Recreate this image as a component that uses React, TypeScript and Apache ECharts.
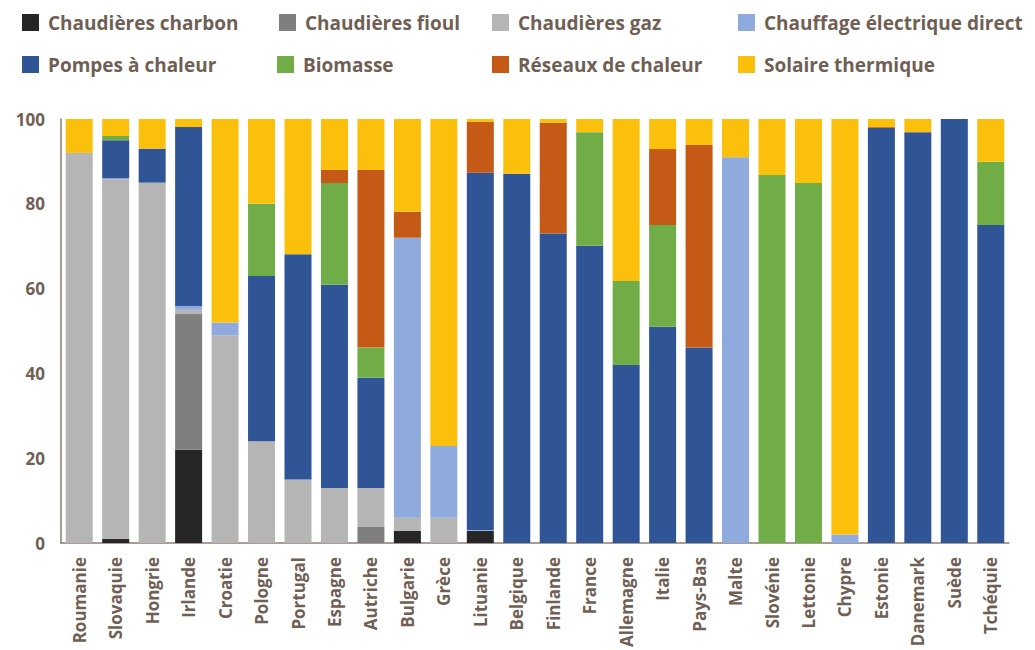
import React, { useEffect, useRef } from "react";
import * as echarts from "echarts";

const countries = ["Roumanie","Slovaquie","Hongrie","Irlande","Croatie","Pologne","Portugal","Espagne","Autriche","Bulgarie","Grèce","Lituanie","Belgique","Finlande","France","Allemagne","Italie","Pays-Bas","Malte","Slovénie","Lettonie","Chypre","Estonie","Danemark","Suède","Tchéquie"];

const charbon = [0,1,0,22,0,0,0,0,0,2.9,0,2.9,0,0,0,0,0,0,0,0,0,0,0,0,0,0];
const fioul = [0,0,0,32,0,0,0,0,3.8,0,0,0,0,0,0,0,0,0,0,0,0,0,0,0,0,0];
const gaz = [92,84.8,85,1,49,24,15,13,9.2,3.1,6,0,0,0,0,0,0,0,0,0,0,0,0,0,0,0];
const electrique = [0,0.2,0,0.9,3,0,0,0,0,66,16.9,0.2,0,0,0,0,0,0,91,0,0,2,0,0,0,0];
const pac = [0,9,8,42.2,0,39,53.1,47.9,26,0,0,84.2,87.1,73,70.1,42,51,46.1,0,0,0,0,97.9,96.9,100,75];
const biomasse = [0,1,0,0,0,17,0,24,7.1,0,0,0,0,0,26.8,19.8,24,0,0,86.8,84.9,0,0,0,0,14.9];
const reseaux = [0,0,0,0,0,0,0,3.1,41.9,6.1,0,12,0,26.1,0,0,17.9,47.8,0,0,0,0,0.2,0,0,0];
const solaire = [8,4,7,1.9,48,20,31.9,12,12,21.9,77.1,0.7,12.9,0.9,3.1,38.2,7.1,6.1,9,13.2,15.1,98,1.9,3.1,0,10.1];

const yTicks = [0, 20, 40, 60, 80, 100];

const seriesDefs = [
  { name: "Chaudières charbon", data: charbon, color: "#262626" },
  { name: "Chaudières fioul", data: fioul, color: "#7f7f7f" },
  { name: "Chaudières gaz", data: gaz, color: "#b5b5b5" },
  { name: "Chauffage électrique direct", data: electrique, color: "#8faadc" },
  { name: "Pompes à chaleur", data: pac, color: "#2f5597" },
  { name: "Biomasse", data: biomasse, color: "#70ad47" },
  { name: "Réseaux de chaleur", data: reseaux, color: "#c55a16" },
  { name: "Solaire thermique", data: solaire, color: "#fbc00c" },
];

const TEXT = "#705f55";
const FONT = "'Open Sans', sans-serif";

const legendPos = [
  [22, 13], [279, 13], [492, 13], [738, 13],
  [22, 55], [277, 55], [492, 55], [738, 55],
];

export default function App() {
  const ref = useRef<HTMLDivElement>(null);
  useEffect(() => {
    if (!ref.current) return;
    const chart = echarts.init(ref.current, null, { renderer: "svg" });
    chart.setOption({
      animation: false,
      legend: seriesDefs.map((s, i) => ({
        data: [s.name],
        left: legendPos[i][0],
        top: legendPos[i][1],
        itemWidth: 17,
        itemHeight: 17,
        icon: "rect",
        padding: 0,
        textStyle: { color: TEXT, fontFamily: FONT, fontWeight: "bold", fontSize: 19, padding: [0, 0, 0, 4] },
        selectedMode: false,
      })),
      grid: { left: 61, right: 26, top: 119, bottom: 106, containLabel: false },
      xAxis: {
        type: "category",
        data: countries,
        axisLine: { lineStyle: { color: "#8b7d72", width: 1.5 } },
        axisTick: { show: false },
        axisLabel: {
          rotate: 90,
          interval: 0,
          margin: 14,
          color: TEXT,
          fontFamily: FONT,
          fontWeight: "bold",
          fontSize: 17,
        },
      },
      yAxis: {
        type: "value",
        min: yTicks[0],
        max: yTicks[yTicks.length - 1],
        interval: 20,
        axisLine: { show: true, lineStyle: { color: "#8b7d72", width: 1.5 } },
        axisTick: { show: false },
        splitLine: { show: false },
        axisLabel: { margin: 16, color: TEXT, fontFamily: FONT, fontWeight: "bold", fontSize: 17 },
      },
      series: seriesDefs.map((s) => ({
        name: s.name,
        type: "bar",
        stack: "total",
        data: s.data,
        barWidth: 27,
        itemStyle: { color: s.color },
        emphasis: { disabled: true },
      })),
    });
    return () => chart.dispose();
  }, []);
  return <div ref={ref} style={{ width: 1035, height: 650, position: "absolute", left: 0, top: 0 }} />;
}
